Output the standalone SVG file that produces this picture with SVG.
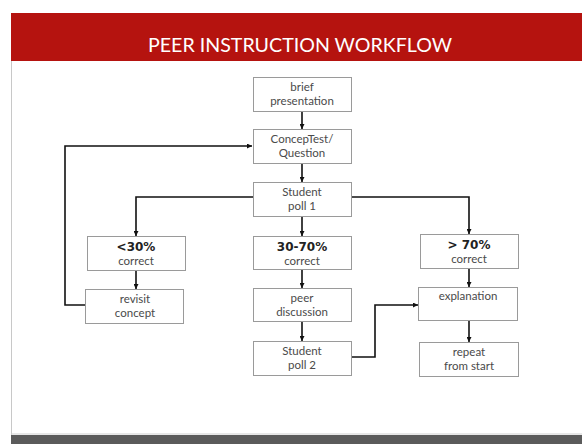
<svg xmlns="http://www.w3.org/2000/svg" width="582" height="444" viewBox="0 0 582 444">
<style>
.box{fill:#fff;stroke:#9a9a9a;stroke-width:1}
.t{font-family:Lato,"Open Sans",sans-serif;font-size:11.5px;fill:#4a4a4a;text-anchor:middle}
.b{font-family:"DejaVu Sans","Open Sans",sans-serif;font-size:12px;font-weight:bold;fill:#222;text-anchor:middle}
.c{fill:none;stroke:#111;stroke-width:1.6}
</style>
<defs>
<marker id="ah" viewBox="0 0 10 10" refX="10" refY="5" markerWidth="5" markerHeight="5" orient="auto" markerUnits="userSpaceOnUse">
<path d="M0,0L10,5L0,10z" fill="#111"/>
</marker>
</defs>
<rect x="0" y="0" width="582" height="444" fill="#fff"/>
<rect x="11" y="13" width="571" height="48" fill="#b5130f"/>
<line x1="11.5" y1="61" x2="11.5" y2="435" stroke="#c8c8c8" stroke-width="1"/>
<line x1="11" y1="434" x2="582" y2="434" stroke="#cfcfcf" stroke-width="1"/>
<rect x="11" y="435" width="571" height="9" fill="#5b5b5b"/>
<text x="300" y="52" font-family="Lato,'Open Sans',sans-serif" font-size="19" fill="#fff" text-anchor="middle" textLength="304" lengthAdjust="spacingAndGlyphs">PEER INSTRUCTION WORKFLOW</text>

<g id="connectors">
<line class="c" x1="302" y1="111" x2="302" y2="129" marker-end="url(#ah)"/>
<line class="c" x1="302" y1="164" x2="302" y2="182" marker-end="url(#ah)"/>
<polyline class="c" points="253,197 136,197 136,236" marker-end="url(#ah)"/>
<polyline class="c" points="351,197 469,197 469,234" marker-end="url(#ah)"/>
<line class="c" x1="302" y1="216" x2="302" y2="236" marker-end="url(#ah)"/>
<line class="c" x1="136" y1="271" x2="136" y2="289" marker-end="url(#ah)"/>
<polyline class="c" points="85,305 65,305 65,146 252,146" marker-end="url(#ah)"/>
<line class="c" x1="302" y1="269" x2="302" y2="288" marker-end="url(#ah)"/>
<line class="c" x1="302" y1="321" x2="302" y2="341" marker-end="url(#ah)"/>
<polyline class="c" points="352,357 375,357 375,305 418,305" marker-end="url(#ah)"/>
<line class="c" x1="469" y1="269" x2="469" y2="287" marker-end="url(#ah)"/>
<line class="c" x1="469" y1="321" x2="469" y2="342" marker-end="url(#ah)"/>
</g>

<g id="brief">
<rect class="box" x="253.5" y="77.5" width="98" height="34"/>
<text class="t" x="302" y="91">brief</text>
<text class="t" x="302" y="105">presentation</text>
</g>
<g id="conceptest">
<rect class="box" x="253.5" y="129.5" width="98" height="34"/>
<text class="t" x="302" y="143">ConcepTest/</text>
<text class="t" x="302" y="157">Question</text>
</g>
<g id="poll1">
<rect class="box" x="253.5" y="182.5" width="98" height="34"/>
<text class="t" x="302" y="196">Student</text>
<text class="t" x="302" y="210">poll 1</text>
</g>
<g id="lt30">
<rect class="box" x="87.5" y="236.5" width="98" height="34"/>
<text class="b" x="136" y="251">&lt;30%</text>
<text class="t" x="136" y="265">correct</text>
</g>
<g id="revisit">
<rect class="box" x="85.5" y="289.5" width="98" height="34"/>
<text class="t" x="135" y="303">revisit</text>
<text class="t" x="135" y="317">concept</text>
</g>
<g id="mid">
<rect class="box" x="253.5" y="236.5" width="98" height="33"/>
<text class="b" x="302" y="251">30-70%</text>
<text class="t" x="302" y="265">correct</text>
</g>
<g id="peer">
<rect class="box" x="253.5" y="288.5" width="98" height="33"/>
<text class="t" x="302" y="302">peer</text>
<text class="t" x="302" y="316">discussion</text>
</g>
<g id="poll2">
<rect class="box" x="253.5" y="341.5" width="98" height="34"/>
<text class="t" x="302" y="355">Student</text>
<text class="t" x="302" y="369">poll 2</text>
</g>
<g id="gt70">
<rect class="box" x="420.5" y="234.5" width="98" height="34"/>
<text class="b" x="469" y="249">&gt; 70%</text>
<text class="t" x="469" y="263">correct</text>
</g>
<g id="explanation">
<rect class="box" x="418.5" y="287.5" width="99" height="33"/>
<text class="t" x="468" y="300">explanation</text>
</g>
<g id="repeat">
<rect class="box" x="419.5" y="342.5" width="99" height="34"/>
<text class="t" x="469" y="356">repeat</text>
<text class="t" x="469" y="370">from start</text>
</g>
</svg>
